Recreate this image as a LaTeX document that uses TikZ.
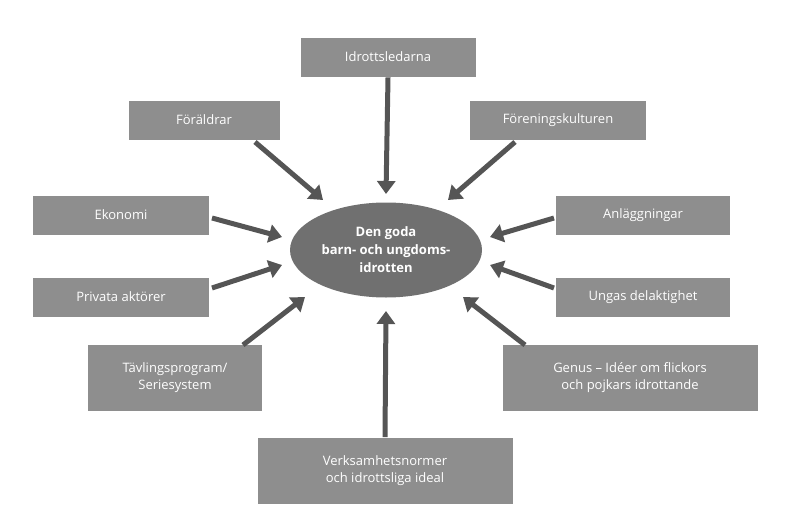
\documentclass[tikz,border=0pt]{standalone}
\usepackage{fontspec}
\setmainfont{Open Sans}
\usetikzlibrary{arrows.meta,shapes.geometric}
\begin{document}
\begin{tikzpicture}[x=1pt,y=-1pt,
  box/.style={fill=boxgray,draw=white,line width=0.8pt,text=white,font=\fontsize{13}{17}\selectfont,align=center,inner sep=0pt},
  arr/.style={draw=arrgray,line width=5pt,-{Triangle[length=13pt,width=18pt]}}]
\definecolor{boxgray}{HTML}{8E8E8E}
\definecolor{arrgray}{HTML}{555555}
\definecolor{ellgray}{HTML}{707070}
\useasboundingbox (0,0) rectangle (786,527);
\node[box,minimum width=176,minimum height=40] (idr) at (388,57) {Idrottsledarna};
\node[box,minimum width=152,minimum height=40] (for) at (204,120) {Föräldrar};
\node[box,minimum width=177,minimum height=40] (fk) at (558,120) {Föreningskulturen};
\node[box,minimum width=177,minimum height=40] (eko) at (121,215) {Ekonomi};
\node[box,minimum width=175,minimum height=40] (anl) at (643,215) {Anläggningar};
\node[box,minimum width=177,minimum height=40] (pri) at (121,297) {Privata aktörer};
\node[box,minimum width=175,minimum height=40] (ung) at (643,297) {Ungas delaktighet};
\node[box,minimum width=175,minimum height=67] (tav) at (175,378) {Tävlingsprogram/\\Seriesystem};
\node[box,minimum width=256,minimum height=67] (gen) at (630,378) {Genus – Idéer om flickors\\och pojkars idrottande};
\node[box,minimum width=256,minimum height=67] (ver) at (385,471) {Verksamhetsnormer\\och idrottsliga ideal};
\node[ellipse,fill=ellgray,minimum width=192,minimum height=95,inner sep=0pt,text=white,font=\fontsize{13}{18}\selectfont\bfseries,align=center] (ell) at (386,250) {Den goda\\barn- och ungdoms-\\idrotten};
\coordinate (e1) at (386,194); \coordinate (e2) at (323,200); \coordinate (e3) at (448,200);
\coordinate (e4) at (282,237); \coordinate (e5) at (490,237); \coordinate (e6) at (282,265);
\coordinate (e7) at (490,265); \coordinate (e8) at (305,297); \coordinate (e9) at (463,297);
\coordinate (e10) at (386,311);
\coordinate (s2) at (255,142); \coordinate (s3) at (515,142); \coordinate (s4) at (212,218);
\coordinate (s5) at (554,218); \coordinate (s6) at (212,288); \coordinate (s7) at (554,288);
\coordinate (s8) at (243,345); \coordinate (s9) at (525,345);
\draw[arr] (idr.south) -- (e1);
\draw[arr] (s2) -- (e2);
\draw[arr] (s3) -- (e3);
\draw[arr] (s4) -- (e4);
\draw[arr] (s5) -- (e5);
\draw[arr] (s6) -- (e6);
\draw[arr] (s7) -- (e7);
\draw[arr] (s8) -- (e8);
\draw[arr] (s9) -- (e9);
\draw[arr] (ver.north) -- (e10);
\end{tikzpicture}
\end{document}
